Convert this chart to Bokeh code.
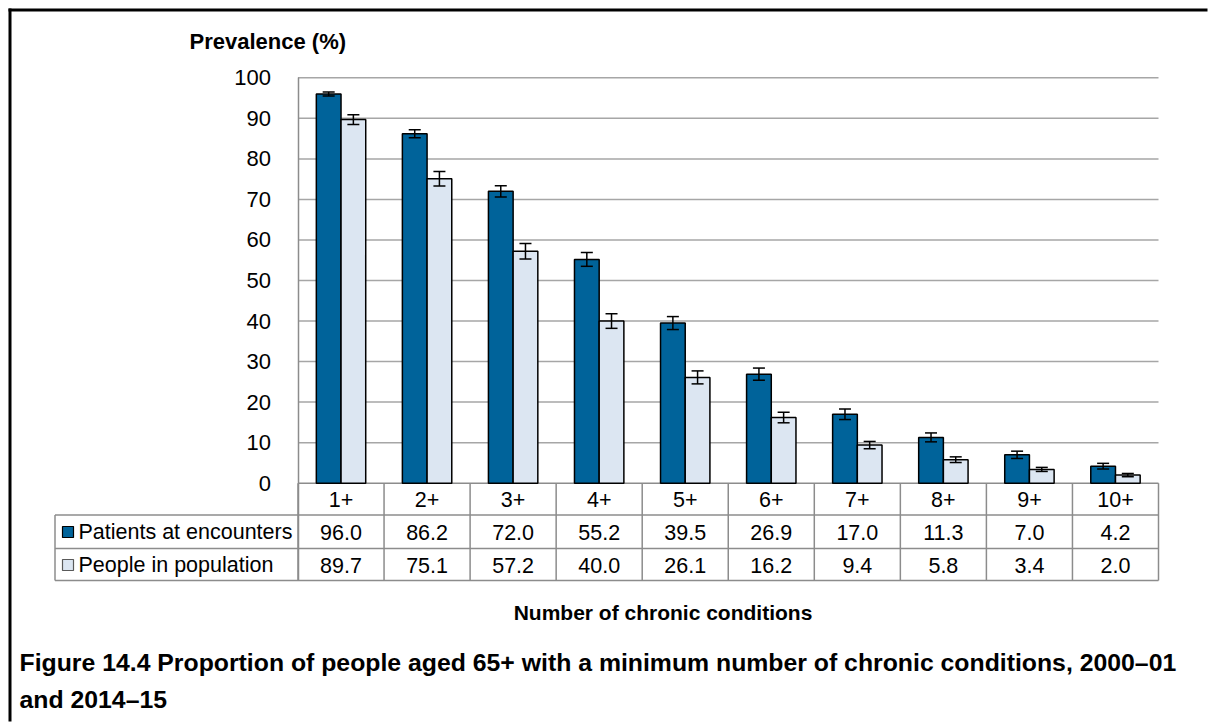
from bokeh.plotting import figure
from bokeh.models import (ColumnDataSource, Range1d, LinearAxis, FixedTicker,
                          Whisker, TeeHead)
from bokeh.core.properties import value
from bokeh.embed import file_html
from bokeh.resources import INLINE

# ---------------- data ----------------
categories = ["1+", "2+", "3+", "4+", "5+", "6+", "7+", "8+", "9+", "10+"]
series_names = ["Patients at encounters", "People in population"]
patients = [96.0, 86.2, 72.0, 55.2, 39.5, 26.9, 17.0, 11.3, 7.0, 4.2]
people = [89.7, 75.1, 57.2, 40.0, 26.1, 16.2, 9.4, 5.8, 3.4, 2.0]
patients_err = [0.5, 1.0, 1.4, 1.7, 1.6, 1.5, 1.3, 1.1, 0.9, 0.7]
people_err = [1.2, 1.8, 1.9, 1.8, 1.6, 1.3, 0.9, 0.7, 0.5, 0.4]
y_ticks = [0, 10, 20, 30, 40, 50, 60, 70, 80, 90, 100]

y_title = "Prevalence (%)"
x_title = "Number of chronic conditions"
caption_lines = ["Figure 14.4 Proportion of people aged 65+ with a minimum number of chronic conditions, 2000\u201301",
                 "and 2014\u201315"]

# ---------------- layout (page pixels) ----------------
W, H = 1208, 722
ORIGIN = 0          # page offset of the canvas
PX_COL = 86.05      # px per category column
X0_PAGE = 297.5     # page x of first column boundary
Y0_PAGE = 482.7     # page y of value 0
PX_UNIT = 4.054     # px per percentage point


def xd(px):
    return (px - X0_PAGE) / PX_COL


def yd(py):
    return (Y0_PAGE - py) / PX_UNIT


DARK = "#00639A"
LIGHT = "#DCE6F2"
GRID = "#A6A6A6"
TLINE = "#8C8C8C"
FONT = value("Liberation Sans")

BAR_W = 0.287
OFF = BAR_W / 2

TABLE_LEFT = xd(54.5)
ROW_LINES = [yd(514.5), yd(548), yd(580)]
TABLE_BOTTOM = ROW_LINES[-1]
n = len(categories)

p = figure(width=W, height=H,
           x_range=Range1d(xd(ORIGIN), xd(ORIGIN + W)),
           y_range=Range1d(yd(ORIGIN + H), yd(ORIGIN)),
           output_backend="svg", toolbar_location=None,
           x_axis_location=None, y_axis_location=None,
           min_border=0, outline_line_color=None)
p.background_fill_color = "white"
p.border_fill_color = "white"
p.xgrid.visible = False
p.ygrid.visible = False

# outer frame (top and left edges) as filled strips
p.quad(left=[xd(8), xd(8)], right=[xd(11), xd(W - 1)],
       top=[yd(8), yd(8)], bottom=[yd(H - 1), yd(11)],
       fill_color="black", line_color=None)

# gridlines (from tick values)
grid_vals = [t for t in y_ticks if t > 0]
p.segment(x0=[0] * len(grid_vals), x1=[n] * len(grid_vals), y0=grid_vals, y1=grid_vals,
          line_color=GRID, line_width=1.5)

# table lines
p.segment(x0=[0], x1=[n], y0=[0], y1=[0], line_color=TLINE, line_width=1.5)
p.segment(x0=[TABLE_LEFT] * 3, x1=[n] * 3, y0=ROW_LINES, y1=ROW_LINES,
          line_color=TLINE, line_width=1.5)
p.segment(x0=list(range(n + 1)), x1=list(range(n + 1)), y0=[0] * (n + 1),
          y1=[TABLE_BOTTOM] * (n + 1), line_color=TLINE, line_width=1.5)
p.segment(x0=[TABLE_LEFT], x1=[TABLE_LEFT], y0=[ROW_LINES[0]], y1=[TABLE_BOTTOM],
          line_color=TLINE, line_width=1.5)

# bars
xc = [i + 0.5 for i in range(n)]
src_a = ColumnDataSource(dict(x=[c - OFF for c in xc], top=patients,
                              upper=[v + e for v, e in zip(patients, patients_err)],
                              lower=[v - e for v, e in zip(patients, patients_err)]))
src_b = ColumnDataSource(dict(x=[c + OFF for c in xc], top=people,
                              upper=[v + e for v, e in zip(people, people_err)],
                              lower=[v - e for v, e in zip(people, people_err)]))
p.vbar(x="x", top="top", bottom=0, width=BAR_W, source=src_a,
       fill_color=DARK, line_color="black", line_width=1.5)
p.vbar(x="x", top="top", bottom=0, width=BAR_W, source=src_b,
       fill_color=LIGHT, line_color="black", line_width=1.5)

for src in (src_a, src_b):
    w = Whisker(base="x", upper="upper", lower="lower", source=src, dimension="height",
                line_color="black", line_width=1.5, level="annotation",
                upper_head=TeeHead(size=12, line_color="black", line_width=1.5),
                lower_head=TeeHead(size=12, line_color="black", line_width=1.5))
    p.add_layout(w)

# y axis at x = 0
yaxis = LinearAxis(fixed_location=0, ticker=FixedTicker(ticks=y_ticks),
                   bounds=(TABLE_BOTTOM, 100))
yaxis.axis_line_color = TLINE
yaxis.axis_line_width = 1.5
yaxis.major_tick_line_color = None
yaxis.major_tick_out = 0
yaxis.major_tick_in = 0
yaxis.minor_tick_line_color = None
yaxis.major_label_standoff = 27
yaxis.major_label_text_font_size = "22px"
yaxis.major_label_text_font = "Liberation Sans"
yaxis.major_label_text_color = "black"
p.add_layout(yaxis, "left")

# table texts
TXT = dict(text_font=FONT, text_font_size="21.5px", text_color="black",
           text_baseline="middle")
row_y = [yd(531.5), yd(564.5)]
p.text(x=xc, y=[yd(499)] * n, text=categories, text_align="center", **TXT)
p.text(x=xc, y=[row_y[0]] * n, text=[f"{v:.1f}" for v in patients], text_align="center", **TXT)
p.text(x=xc, y=[row_y[1]] * n, text=[f"{v:.1f}" for v in people], text_align="center", **TXT)
p.text(x=[xd(78)] * 2, y=row_y, text=series_names, text_align="left", **TXT)
p.scatter(x=[xd(67.5)] * 2, y=row_y, marker="square", size=11,
          fill_color=[DARK, LIGHT], line_color=["black", "#595959"], line_width=1.2)

# titles
BOLD = dict(text_font=FONT, text_font_style="bold", text_color="black", text_baseline="middle")
p.text(x=[xd(189)], y=[yd(41)], text=[y_title], text_align="left", text_font_size="22px", **BOLD)
p.text(x=[xd(662.5)], y=[yd(612)], text=[x_title], text_align="center", text_font_size="21px", **BOLD)
p.text(x=[xd(19)] * 2, y=[yd(662), yd(699)], text=caption_lines, text_align="left",
       text_font_size="24.8px", **BOLD)

open("out.html", "w").write(file_html(p, INLINE))
